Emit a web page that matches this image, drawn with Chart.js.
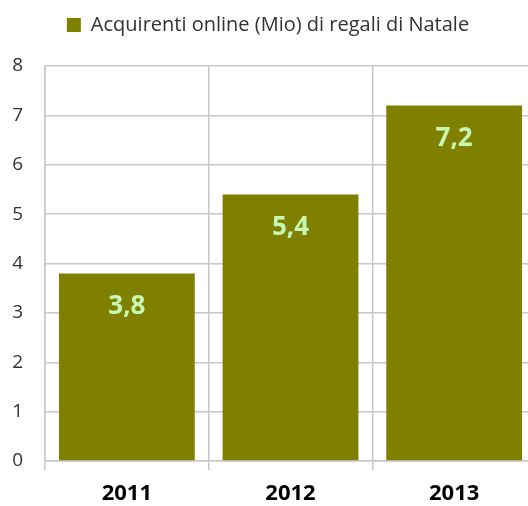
<!DOCTYPE html>
<html lang="it">
<head>
    <meta charset="UTF-8">
    <title>Acquirenti online</title>
    <style>
        body {
            margin: 0;
            padding: 0;
            background-color: #fff;
            overflow: hidden;
        }
        .chart-box {
            width: 536px;
            height: 506px;
        }
    </style>
</head>
<body>
    <div class="chart-box">
        <canvas id="salesChart"></canvas>
    </div>

    <script src="https://cdn.jsdelivr.net/npm/chart.js"></script>
    <script>
        const years = ['2011', '2012', '2013'];
        const buyers = [3.8, 5.4, 7.2];
        const seriesName = 'Acquirenti online (Mio) di regali di Natale';

        const FONT = "'Open Sans', 'Noto Sans', sans-serif";

        // draws the value inside each bar, Italian decimal comma
        const barValues = {
            id: 'barValues',
            afterDatasetsDraw(chart) {
                const ctx = chart.ctx;
                const meta = chart.getDatasetMeta(0);
                ctx.save();
                ctx.fillStyle = '#c6f7b4';
                ctx.font = 'bold 26px ' + FONT;
                ctx.textAlign = 'center';
                ctx.textBaseline = 'middle';
                meta.data.forEach((bar, i) => {
                    const txt = buyers[i].toFixed(1).replace('.', ',');
                    ctx.fillText(txt, bar.x, bar.y + 33);
                });
                ctx.restore();
            }
        };

        // extra room between the legend and the plot
        const legendGap = {
            id: 'legendGap',
            beforeInit(chart) {
                const fit = chart.legend.fit;
                chart.legend.fit = function () {
                    fit.call(this);
                    this.height += 21;
                };
            }
        };

        new Chart(document.getElementById('salesChart'), {
            type: 'bar',
            data: {
                labels: years,
                datasets: [{
                    label: seriesName,
                    data: buyers,
                    backgroundColor: '#808000',
                    borderWidth: 0,
                    barPercentage: 0.83,
                    categoryPercentage: 1
                }]
            },
            options: {
                responsive: true,
                maintainAspectRatio: false,
                animation: false,
                layout: {
                    padding: { top: 1, right: 0, left: 0, bottom: 0 }
                },
                plugins: {
                    tooltip: { enabled: false },
                    legend: {
                        position: 'top',
                        align: 'center',
                        labels: {
                            boxWidth: 14,
                            boxHeight: 14,
                            padding: 14,
                            color: '#333',
                            font: { family: FONT, size: 20 }
                        }
                    }
                },
                scales: {
                    x: {
                        grid: {
                            color: '#c8c8c8',
                            lineWidth: 1.5,
                            tickLength: 9,
                            offset: true
                        },
                        border: { color: '#c8c8c8', width: 1.5 },
                        ticks: {
                            color: '#000',
                            padding: 11,
                            font: { family: FONT, size: 22, weight: 'bold' }
                        },
                        afterFit(scale) { scale.height = 45; }
                    },
                    y: {
                        min: 0,
                        max: 8,
                        ticks: {
                            stepSize: 1,
                            color: '#333',
                            padding: 22,
                            font: { family: FONT, size: 19 }
                        },
                        grid: {
                            color: '#c8c8c8',
                            lineWidth: 1.5,
                            drawTicks: false
                        },
                        border: { color: '#c8c8c8', width: 1.5 },
                        afterFit(scale) { scale.width = 45; }
                    }
                }
            },
            plugins: [legendGap, barValues]
        });
    </script>
</body>
</html>
